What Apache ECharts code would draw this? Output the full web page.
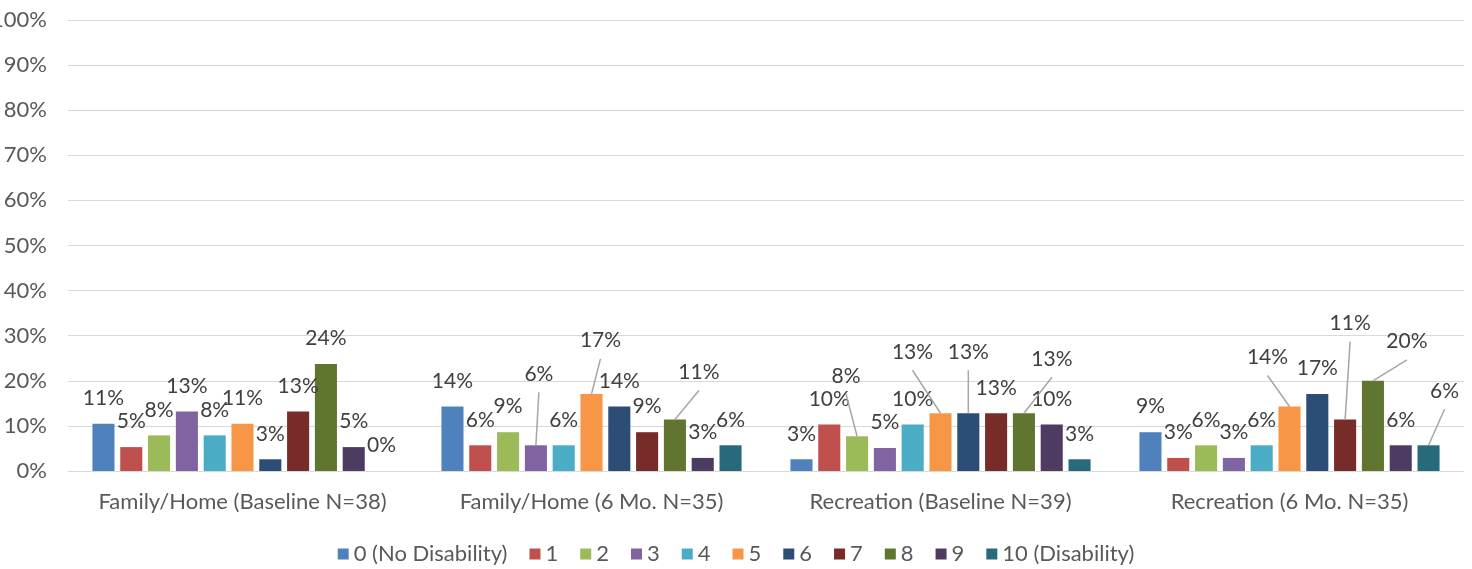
<!DOCTYPE html>
<html>
<head>
<meta charset="utf-8">
<script src="https://cdn.jsdelivr.net/npm/echarts@6/dist/echarts.min.js"></script>
<style>
html,body{margin:0;padding:0;background:#fff;}
#chart{width:1472px;height:569px;}
</style>
</head>
<body>
<div id="chart"></div>
<script>
// ---- data ----
const categories = ['Family/Home (Baseline N=38)', 'Family/Home (6 Mo. N=35)', 'Recreation (Baseline N=39)', 'Recreation (6 Mo. N=35)'];
const seriesNames = ['0 (No Disability)', '1', '2', '3', '4', '5', '6', '7', '8', '9', '10 (Disability)'];
const famBaseline = [10.5, 5.3, 7.9, 13.2, 7.9, 10.5, 2.6, 13.2, 23.7, 5.3, 0];
const famSixMonth = [14.3, 5.7, 8.6, 5.7, 5.7, 17.1, 14.3, 8.6, 11.4, 2.9, 5.7];
const recBaseline = [2.6, 10.3, 7.7, 5.1, 10.3, 12.8, 12.8, 12.8, 12.8, 10.3, 2.6];
const recSixMonth = [8.6, 2.9, 5.7, 2.9, 5.7, 14.3, 17.1, 11.4, 20.0, 5.7, 5.7];
const yTicks = [0, 10, 20, 30, 40, 50, 60, 70, 80, 90, 100];

// ---- styling ----
const colors = ['#4F81BD', '#C0504D', '#9BBB59', '#8064A2', '#4BACC6', '#F79646', '#2C4D75', '#772C2A', '#5F7530', '#4D3B62', '#276A7C'];
// moved labels (category index - series index) -> [dx, dy]
const labelMoves = {
  '1-3': [3, -46], '1-5': [9, -28], '1-8': [24, -22],
  '2-2': [-11, -35], '2-5': [-28, -36], '2-6': [0, -36], '2-8': [28, -29],
  '3-5': [-22, -24], '3-7': [5, -71], '3-8': [34, -14], '3-10': [16, -29]
};
const FONT = 'Lato';
const LABEL_DIST = 15;
const groups = [famBaseline, famSixMonth, recBaseline, recSixMonth];

const series = seriesNames.map((name, s) => ({
  name: name,
  type: 'bar',
  barGap: '26%',
  barCategoryGap: '14%',
  itemStyle: { color: colors[s] },
  label: {
    show: true,
    position: 'top',
    distance: LABEL_DIST,
    fontFamily: FONT,
    fontSize: 21,
    color: '#404040',
    formatter: p => Math.round(p.value) + '%'
  },
  data: groups.map((g, c) => {
    const mv = labelMoves[c + '-' + s];
    const item = { value: g[s] };
    if (mv) item.label = { offset: mv };
    return item;
  })
}));

const chart = echarts.init(document.getElementById('chart'));
chart.setOption({
  animation: false,
  color: colors,
  grid: { left: 68, right: 8, top: 20, bottom: 98, containLabel: false, outerBoundsMode: 'none' },
  legend: {
    data: seriesNames,
    top: 538,
    left: 'center',
    itemWidth: 11,
    itemHeight: 11,
    itemGap: 22,
    icon: 'rect',
    textStyle: { fontFamily: FONT, fontSize: 22, color: '#595959' }
  },
  xAxis: {
    type: 'category',
    data: categories,
    axisLine: { lineStyle: { color: '#D9D9D9', width: 1 } },
    axisTick: { show: false },
    axisLabel: { interval: 0, fontFamily: FONT, fontSize: 22, color: '#595959', margin: 20 }
  },
  yAxis: {
    type: 'value',
    min: yTicks[0],
    max: yTicks[yTicks.length - 1],
    interval: 10,
    axisLine: { show: false },
    axisTick: { show: false },
    splitLine: { lineStyle: { color: '#D9D9D9', width: 1 } },
    axisLabel: { fontFamily: FONT, fontSize: 22, color: '#595959', margin: 21, formatter: v => v + '%' }
  },
  series: series
});

// leader lines for moved labels: from bar top centre to just below the label
const model = chart.getModel();
const lines = [];
Object.keys(labelMoves).forEach(key => {
  const [c, s] = key.split('-').map(Number);
  const mv = labelMoves[key];
  const layout = model.getSeriesByIndex(s).getData().getItemLayout(c);
  const cx = layout.x + layout.width / 2;
  const top = Math.min(layout.y, layout.y + layout.height);
  lines.push({
    type: 'line',
    silent: true,
    z: 10,
    shape: { x1: cx, y1: top, x2: cx + mv[0], y2: top - LABEL_DIST - 10 + 18 + mv[1] },
    style: { stroke: '#A6A6A6', lineWidth: 1.5 }
  });
});
chart.setOption({ graphic: lines });
</script>
</body>
</html>
